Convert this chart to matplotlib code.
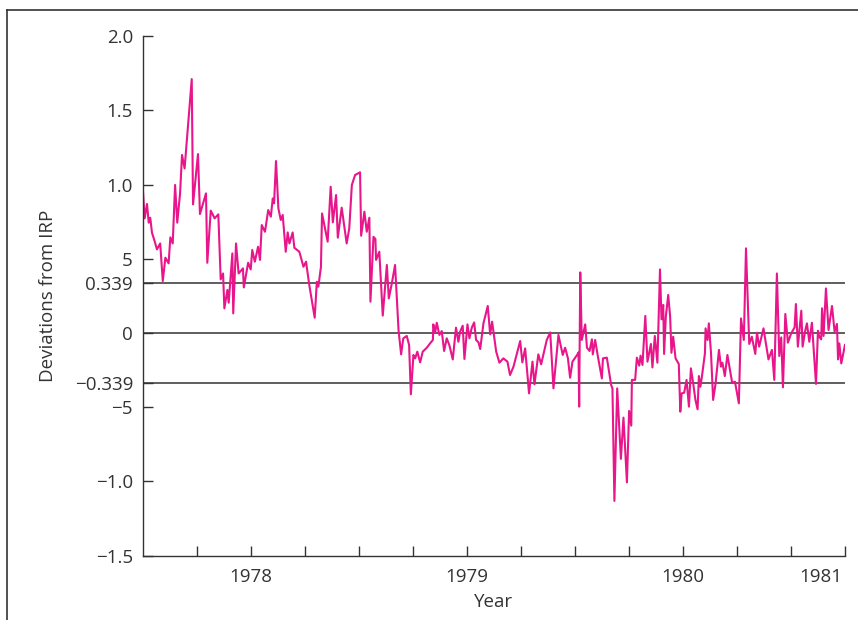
import matplotlib
matplotlib.use("Agg")
import matplotlib.pyplot as plt
from matplotlib.lines import Line2D

plt.rcParams["font.family"] = ["Open Sans", "DejaVu Sans"]

# weekly deviations from interest rate parity
years = [
    1977.501, 1977.509, 1977.520, 1977.528, 1977.535, 1977.543, 1977.556, 1977.566, 1977.581, 1977.593,
    1977.605, 1977.620, 1977.628, 1977.639, 1977.650, 1977.660, 1977.673, 1977.682, 1977.694, 1977.727,
    1977.733, 1977.756, 1977.765, 1977.793, 1977.799, 1977.815, 1977.833, 1977.850, 1977.861, 1977.872,
    1977.878, 1977.892, 1977.898, 1977.915, 1977.919, 1977.932, 1977.944, 1977.964, 1977.968, 1977.988,
    1978.000, 1978.007, 1978.019, 1978.034, 1978.043, 1978.051, 1978.066, 1978.081, 1978.093, 1978.102,
    1978.108, 1978.117, 1978.128, 1978.139, 1978.148, 1978.162, 1978.171, 1978.179, 1978.194, 1978.202,
    1978.225, 1978.244, 1978.256, 1978.271, 1978.296, 1978.306, 1978.313, 1978.325, 1978.330, 1978.356,
    1978.370, 1978.380, 1978.395, 1978.403, 1978.421, 1978.444, 1978.456, 1978.468, 1978.483, 1978.506,
    1978.511, 1978.526, 1978.537, 1978.549, 1978.554, 1978.568, 1978.577, 1978.580, 1978.595, 1978.611,
    1978.630, 1978.639, 1978.653, 1978.668, 1978.684, 1978.696, 1978.706, 1978.722, 1978.733, 1978.741,
    1978.753, 1978.761, 1978.771, 1978.784, 1978.796, 1978.815, 1978.830, 1978.843, 1978.845, 1978.853,
    1978.861, 1978.873, 1978.884, 1978.895, 1978.907, 1978.919, 1978.935, 1978.950, 1978.961, 1978.969,
    1978.981, 1978.989, 1979.003, 1979.012, 1979.023, 1979.034, 1979.043, 1979.054, 1979.062, 1979.077,
    1979.097, 1979.108, 1979.117, 1979.136, 1979.151, 1979.169, 1979.188, 1979.200, 1979.216, 1979.247,
    1979.257, 1979.270, 1979.288, 1979.304, 1979.313, 1979.331, 1979.344, 1979.370, 1979.386, 1979.401,
    1979.424, 1979.444, 1979.455, 1979.468, 1979.478, 1979.489, 1979.512, 1979.517, 1979.520, 1979.525,
    1979.532, 1979.548, 1979.556, 1979.568, 1979.579, 1979.583, 1979.594, 1979.606, 1979.625, 1979.630,
    1979.648, 1979.668, 1979.674, 1979.683, 1979.696, 1979.713, 1979.725, 1979.741, 1979.751, 1979.761,
    1979.764, 1979.779, 1979.787, 1979.798, 1979.804, 1979.813, 1979.826, 1979.836, 1979.852, 1979.859,
    1979.870, 1979.882, 1979.894, 1979.901, 1979.909, 1979.913, 1979.921, 1979.932, 1979.941, 1979.947,
    1979.955, 1979.966, 1979.981, 1979.988, 1979.994, 1980.006, 1980.017, 1980.028, 1980.037, 1980.048,
    1980.058, 1980.068, 1980.074, 1980.081, 1980.089, 1980.102, 1980.105, 1980.114, 1980.120, 1980.130,
    1980.140, 1980.151, 1980.167, 1980.176, 1980.183, 1980.194, 1980.206, 1980.218, 1980.228, 1980.241,
    1980.259, 1980.269, 1980.282, 1980.292, 1980.307, 1980.319, 1980.335, 1980.343, 1980.353, 1980.373,
    1980.396, 1980.412, 1980.423, 1980.435, 1980.446, 1980.455, 1980.463, 1980.474, 1980.486, 1980.501,
    1980.517, 1980.523, 1980.532, 1980.548, 1980.554, 1980.566, 1980.574, 1980.585, 1980.597, 1980.616,
    1980.625, 1980.631, 1980.640, 1980.644, 1980.651, 1980.662, 1980.674, 1980.690, 1980.702, 1980.713,
    1980.718, 1980.724, 1980.733, 1980.750,
]
deviation = [
    0.963, 0.772, 0.869, 0.743, 0.776, 0.675, 0.615, 0.563, 0.603, 0.350,
    0.507, 0.469, 0.644, 0.603, 0.997, 0.743, 0.940, 1.199, 1.108, 1.710,
    0.866, 1.205, 0.801, 0.940, 0.473, 0.824, 0.772, 0.799, 0.361, 0.401,
    0.166, 0.290, 0.204, 0.536, 0.132, 0.603, 0.401, 0.435, 0.307, 0.473,
    0.428, 0.559, 0.480, 0.581, 0.492, 0.727, 0.682, 0.828, 0.783, 0.906,
    0.873, 1.158, 0.839, 0.761, 0.795, 0.547, 0.677, 0.603, 0.677, 0.574,
    0.547, 0.446, 0.480, 0.323, 0.103, 0.345, 0.312, 0.446, 0.805, 0.615,
    0.985, 0.745, 0.929, 0.642, 0.844, 0.603, 0.704, 0.997, 1.064, 1.082,
    0.655, 0.817, 0.682, 0.776, 0.211, 0.648, 0.633, 0.492, 0.547, 0.117,
    0.458, 0.233, 0.334, 0.458, 0.020, -0.144, -0.036, -0.020, -0.081, -0.413,
    -0.148, -0.171, -0.126, -0.198, -0.126, -0.099, -0.070, -0.047, 0.058, 0.000,
    0.069, -0.013, 0.013, -0.121, -0.036, -0.081, -0.178, 0.036, -0.059, 0.009,
    0.049, -0.175, 0.058, -0.036, 0.036, 0.071, -0.047, -0.063, -0.108, 0.065,
    0.182, -0.009, 0.076, -0.126, -0.200, -0.171, -0.193, -0.283, -0.227, -0.054,
    -0.198, -0.104, -0.407, -0.193, -0.346, -0.144, -0.211, -0.047, 0.004, -0.373,
    -0.013, -0.148, -0.099, -0.171, -0.301, -0.193, -0.144, -0.131, -0.496, 0.408,
    -0.047, 0.058, -0.099, -0.121, -0.043, -0.144, -0.047, -0.153, -0.306, -0.171,
    -0.166, -0.350, -0.373, -1.131, -0.373, -0.848, -0.570, -1.006, -0.525, -0.624,
    -0.316, -0.316, -0.166, -0.220, -0.153, -0.215, 0.115, -0.193, -0.074, -0.232,
    -0.020, -0.200, 0.428, 0.092, 0.189, -0.141, 0.110, 0.256, 0.110, -0.133,
    -0.025, -0.171, -0.209, -0.530, -0.407, -0.402, -0.316, -0.496, -0.238, -0.343,
    -0.451, -0.514, -0.290, -0.362, -0.283, -0.137, 0.031, -0.047, 0.065, -0.133,
    -0.451, -0.343, -0.114, -0.227, -0.200, -0.290, -0.148, -0.249, -0.335, -0.328,
    -0.474, 0.098, -0.047, 0.570, -0.074, -0.025, -0.141, 0.002, -0.092, 0.031,
    -0.178, -0.114, -0.316, 0.401, -0.155, -0.030, -0.366, 0.128, -0.065, -0.003,
    0.038, 0.195, -0.092, 0.150, -0.092, 0.015, 0.065, -0.059, 0.069, -0.343,
    0.015, -0.025, -0.043, 0.166, -0.020, 0.300, 0.020, 0.182, 0.009, 0.061,
    -0.178, -0.070, -0.205, -0.081,
]

band = [0.339, 0.0, -0.339]
y_ticks = [2.0, 1.5, 1.0, 0.5, 0.339, 0.0, -0.339, -0.5, -1.0, -1.5]
y_labels = ["2.0", "1.5", "1.0", "5", "0.339", "0", "\u22120.339", "\u22125", "\u22121.0", "\u22121.5"]
x_ticks = [1977.75, 1978.0, 1978.25, 1978.5, 1978.75, 1979.0, 1979.25, 1979.5,
           1979.75, 1980.0, 1980.25, 1980.5, 1980.75]
x_labels = ["", "1978", "", "", "", "1979", "", "", "", "1980", "", "", ""]

pink = "#E8168A"
dark = "#333333"

fig = plt.figure(figsize=(8.58, 6.2), dpi=100)
ax = fig.add_axes([0.1663, 0.1037, 0.8185, 0.8382])

for b in band:
    ax.axhline(b, color=dark, lw=1.1, zorder=1)
ax.plot(years, deviation, color=pink, lw=1.5, zorder=2)

ax.set_xlim(1977.5, 1980.75)
ax.set_ylim(-1.5, 2.0)
ax.set_yticks(y_ticks)
ax.set_yticklabels(y_labels)
ax.set_xticks(x_ticks)
ax.set_xticklabels(x_labels)
# the "1981" label sits left of the last tick
ax.set_xticks([1980.636], minor=True)
ax.set_xticklabels(["1981"], minor=True)
ax.tick_params(axis="x", which="minor", length=0, pad=9, labelsize=13.5, colors=dark)

ax.tick_params(axis="both", which="major", direction="in", length=7, width=1,
               color=dark, labelcolor=dark, labelsize=13.5)
ax.tick_params(axis="y", pad=7)
ax.tick_params(axis="x", which="major", pad=9)

for s in ["top", "right"]:
    ax.spines[s].set_visible(False)
for s in ["left", "bottom"]:
    ax.spines[s].set_color(dark)
    ax.spines[s].set_linewidth(1)

ax.set_ylabel("Deviations from IRP", fontsize=13.5, color=dark, labelpad=13)
ax.set_xlabel("Year", fontsize=13.5, color=dark, labelpad=5)

# box edge around the figure (top and left only)
fig.add_artist(Line2D([0.0085, 1.0], [0.9839, 0.9839], color=dark, lw=1.2))
fig.add_artist(Line2D([0.0085, 0.0085], [0.0, 0.9839], color=dark, lw=1.2))

fig.savefig("out.png", dpi=100)
